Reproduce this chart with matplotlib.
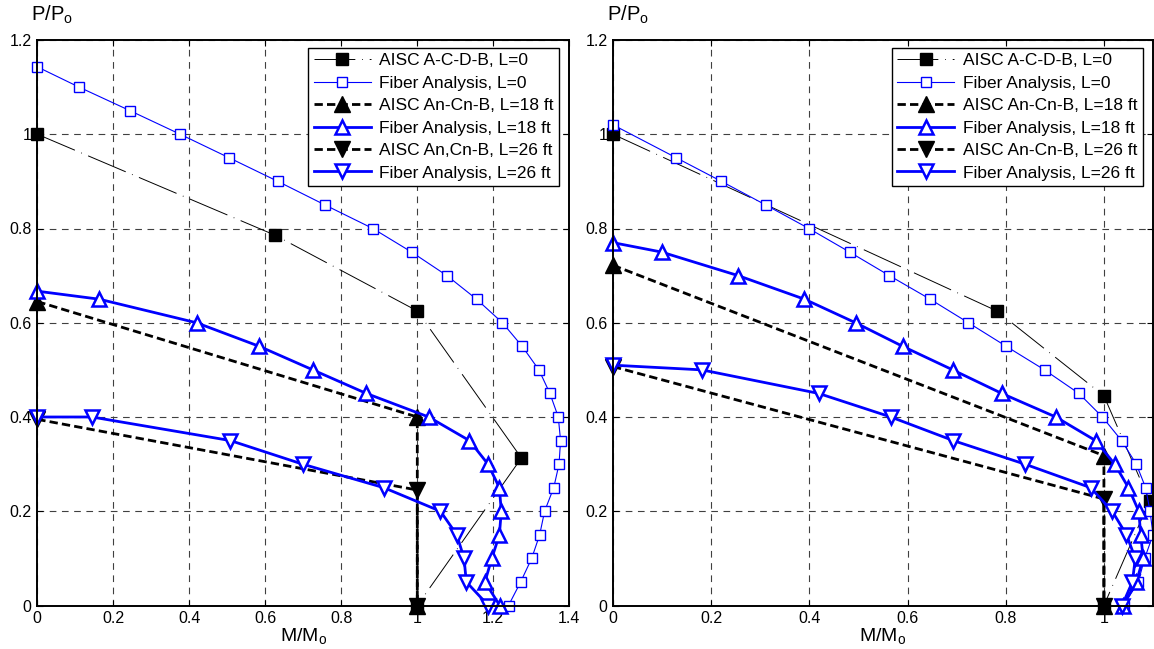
import matplotlib
matplotlib.use("Agg")
import matplotlib.pyplot as plt
from matplotlib.ticker import FuncFormatter
from matplotlib.patches import Rectangle

plt.rcParams['font.family'] = ['Liberation Sans', 'DejaVu Sans']
plt.rcParams['mathtext.fontset'] = 'custom'
plt.rcParams['mathtext.rm'] = 'Liberation Sans'
plt.rcParams['mathtext.it'] = 'Liberation Sans:italic'

# ---- left panel data (M/Mo, P/Po) ----
aisc0_m_left = [0, 0.625, 1.0, 1.274, 1.0]
aisc0_p_left = [1.0, 0.786, 0.625, 0.313, 0.0]
fiber0_m_left = [0, 0.11, 0.244, 0.376, 0.505, 0.633, 0.757, 0.883, 0.985, 1.078,
                 1.156, 1.224, 1.276, 1.32, 1.349, 1.371, 1.377, 1.373, 1.359, 1.335,
                 1.322, 1.301, 1.272, 1.24]
fiber0_p_left = [1.143, 1.1, 1.05, 1.0, 0.95, 0.9, 0.85, 0.8, 0.75, 0.7,
                 0.65, 0.6, 0.55, 0.5, 0.45, 0.4, 0.35, 0.3, 0.25, 0.2,
                 0.15, 0.1, 0.05, 0.0]
aisc18_m_left = [0, 1.0, 1.0]
aisc18_p_left = [0.645, 0.4, 0.0]
fiber18_m_left = [0, 0.163, 0.419, 0.584, 0.725, 0.866, 1.03, 1.137, 1.186, 1.216,
                  1.221, 1.216, 1.196, 1.178, 1.217]
fiber18_p_left = [0.667, 0.65, 0.6, 0.55, 0.5, 0.45, 0.4, 0.35, 0.3, 0.25,
                  0.2, 0.15, 0.1, 0.05, 0.0]
aisc26_m_left = [0, 1.0, 1.0]
aisc26_p_left = [0.395, 0.245, 0.0]
fiber26_m_left = [0, 0.144, 0.508, 0.698, 0.912, 1.061, 1.104, 1.123, 1.129, 1.187]
fiber26_p_left = [0.4, 0.4, 0.35, 0.3, 0.25, 0.2, 0.15, 0.1, 0.05, 0.0]

# ---- right panel data ----
aisc0_m_right = [0, 0.782, 1.0, 1.093, 1.0]
aisc0_p_right = [1.0, 0.625, 0.445, 0.222, 0.0]
fiber0_m_right = [0, 0.129, 0.221, 0.311, 0.399, 0.482, 0.563, 0.646, 0.724, 0.801,
                  0.879, 0.949, 0.997, 1.036, 1.066, 1.085, 1.094, 1.1, 1.083, 1.07, 1.04]
fiber0_p_right = [1.02, 0.95, 0.9, 0.85, 0.8, 0.75, 0.7, 0.65, 0.6, 0.55,
                  0.5, 0.45, 0.4, 0.35, 0.3, 0.25, 0.2, 0.15, 0.1, 0.05, 0.0]
aisc18_m_right = [0, 1.0, 1.0]
aisc18_p_right = [0.722, 0.318, 0.0]
fiber18_m_right = [0, 0.099, 0.255, 0.39, 0.494, 0.59, 0.692, 0.792, 0.902, 0.983,
                   1.022, 1.05, 1.071, 1.075, 1.08, 1.066, 1.039]
fiber18_p_right = [0.77, 0.75, 0.7, 0.65, 0.6, 0.55, 0.5, 0.45, 0.4, 0.35,
                   0.3, 0.25, 0.2, 0.15, 0.1, 0.05, 0.0]
aisc26_m_right = [0, 1.0, 1.0]
aisc26_p_right = [0.507, 0.226, 0.0]
fiber26_m_right = [0, 0.181, 0.419, 0.566, 0.693, 0.839, 0.973, 1.017, 1.046, 1.064,
                   1.058, 1.037]
fiber26_p_right = [0.51, 0.5, 0.45, 0.4, 0.35, 0.3, 0.25, 0.2, 0.15, 0.1, 0.05, 0.0]

labels_left = ['AISC A-C-D-B, L=0', 'Fiber Analysis, L=0',
               'AISC An-Cn-B, L=18 ft', 'Fiber Analysis, L=18 ft',
               'AISC An,Cn-B, L=26 ft', 'Fiber Analysis, L=26 ft']
labels_right = ['AISC A-C-D-B, L=0', 'Fiber Analysis, L=0',
                'AISC An-Cn-B, L=18 ft', 'Fiber Analysis, L=18 ft',
                'AISC An-Cn-B, L=26 ft', 'Fiber Analysis, L=26 ft']

xticks_left = [0, 0.2, 0.4, 0.6, 0.8, 1.0, 1.2, 1.4]
xticks_right = [0, 0.2, 0.4, 0.6, 0.8, 1.0]
yticks = [0, 0.2, 0.4, 0.6, 0.8, 1.0, 1.2]


def draw_panel(ax, series, labels, xlim, xticks):
    (a0m, a0p), (f0m, f0p), (a18m, a18p), (f18m, f18p), (a26m, a26p), (f26m, f26p) = series
    lines = []
    # AISC L=0 : thin black dash-dot, filled squares
    lines += ax.plot(a0m, a0p, color='black', lw=0.7, ls=(0, (42, 7, 0.8, 7)),
                     marker='s', ms=9, mfc='black', mec='black', label=labels[0])
    # fiber L=0 : thin blue, open squares
    lines += ax.plot(f0m, f0p, color='blue', lw=0.8, marker='s', ms=7.5,
                     mfc='white', mec='blue', mew=1.0, label=labels[1])
    lines += ax.plot(a18m, a18p, color='black', lw=2, ls=(0, (3, 1.5)),
                     marker='^', ms=11, mfc='black', mec='black', label=labels[2])
    lines += ax.plot(f18m, f18p, color='blue', lw=2, marker='^', ms=10,
                     mfc='white', mec='blue', mew=1.8, label=labels[3])
    lines += ax.plot(a26m, a26p, color='black', lw=2, ls=(0, (3, 1.5)),
                     marker='v', ms=11, mfc='black', mec='black', label=labels[4])
    lines += ax.plot(f26m, f26p, color='blue', lw=2, marker='v', ms=10,
                     mfc='white', mec='blue', mew=1.8, label=labels[5])

    # markers may spill over the left/bottom edges, but are cut at the right edge
    clip = Rectangle((-0.1, -0.1), 1.1, 1.2, transform=ax.transAxes,
                     fill=False, visible=False)
    ax.add_patch(clip)
    for ln in lines:
        ln.set_clip_path(clip)

    ax.set_xlim(*xlim)
    ax.set_ylim(0, 1.2)
    ax.set_xticks(xticks)
    ax.set_yticks(yticks)
    fmt = FuncFormatter(lambda v, p: '%g' % round(v, 2))
    ax.xaxis.set_major_formatter(fmt)
    ax.yaxis.set_major_formatter(fmt)
    ax.tick_params(direction='in', length=4, width=0.8, labelsize=11.5,
                   top=True, right=True, pad=4)
    ax.grid(True, color='0.25', lw=0.8, ls=(0, (6, 5)))
    ax.set_axisbelow(True)
    for s in ax.spines.values():
        s.set_linewidth(1.4)

    ax.set_xlabel(r'M/M$_{\mathrm{o}}$', fontsize=14, labelpad=0)
    ax.text(-0.012, 1.025, r'P/P$_{\mathrm{o}}$', transform=ax.transAxes,
            fontsize=14.5, ha='left', va='bottom')

    leg = ax.legend(loc='upper right', bbox_to_anchor=(0.981, 0.986),
                    borderaxespad=0, fontsize=12.5, handlelength=3.3,
                    labelspacing=0.42, numpoints=1, fancybox=False,
                    framealpha=1, edgecolor='black', borderpad=0.3,
                    handletextpad=0.5)
    leg.get_frame().set_linewidth(1.0)


fig = plt.figure(figsize=(11.54, 6.49), dpi=100)
ax1 = fig.add_axes([37.3 / 1154, 1 - 605.5 / 649, 532 / 1154, 565.5 / 649])
ax2 = fig.add_axes([613 / 1154, 1 - 605.5 / 649, 540 / 1154, 565.5 / 649])

draw_panel(ax1, [(aisc0_m_left, aisc0_p_left), (fiber0_m_left, fiber0_p_left),
                 (aisc18_m_left, aisc18_p_left), (fiber18_m_left, fiber18_p_left),
                 (aisc26_m_left, aisc26_p_left), (fiber26_m_left, fiber26_p_left)],
           labels_left, (0, 1.4), xticks_left)
draw_panel(ax2, [(aisc0_m_right, aisc0_p_right), (fiber0_m_right, fiber0_p_right),
                 (aisc18_m_right, aisc18_p_right), (fiber18_m_right, fiber18_p_right),
                 (aisc26_m_right, aisc26_p_right), (fiber26_m_right, fiber26_p_right)],
           labels_right, (0, 1.1), xticks_right)

fig.savefig('out.png', dpi=100)
